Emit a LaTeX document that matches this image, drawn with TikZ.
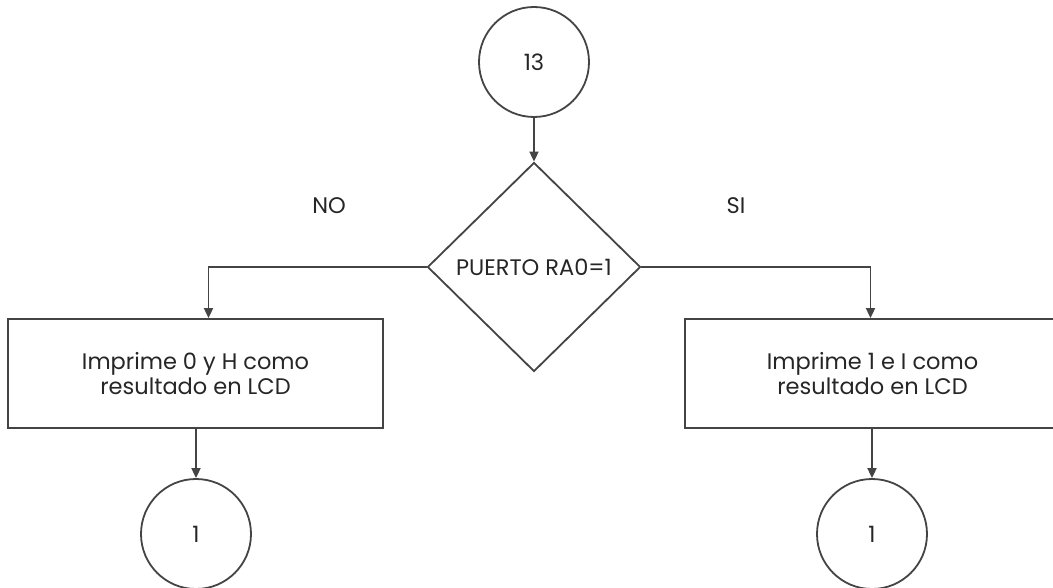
\documentclass[tikz,border=0pt]{standalone}
\usepackage{fontspec}
\setmainfont{Poppins}
\usetikzlibrary{shapes.geometric,arrows.meta}
\definecolor{ink}{HTML}{262626}
\definecolor{edge}{HTML}{444444}
\tikzset{
  label font/.style={text=ink, font=\fontsize{22.5}{24.5}\selectfont},
  base/.style={draw=edge, line width=1.8pt, label font},
  connector/.style={base, circle, minimum size=110pt, inner sep=0pt},
  decision/.style={base, diamond, minimum width=213pt, minimum height=209pt, inner sep=0pt},
  process/.style={base, rectangle, minimum width=375pt, minimum height=109pt, inner sep=0pt, align=center},
  caption/.style={label font, inner sep=0pt},
  flow/.style={draw=edge, line width=1.8pt, -{Triangle[length=10pt,width=9pt]}},
}
\begin{document}
\begin{tikzpicture}[x=1pt,y=-1pt]
  \useasboundingbox (0,0) rectangle (1053,588);
  \fill[white] (0,0) rectangle (1053,588);

  % start connector and decision
  \node[connector] (c13) at (534,62) {13};
  \node[decision] (dec) at (534,267) {PUERTO RA0=1};

  % the two branches
  \node[process] (boxL) at (195.5,373.5) {Imprime 0 y H como\\resultado en LCD};
  \node[process] (boxR) at (872.5,373.5) {Imprime 1 e I como\\resultado en LCD};

  % off-page connectors
  \node[connector] (endL) at (196,534) {1};
  \node[connector] (endR) at (872,534) {1};

  % branch labels
  \node[caption] (no) at (329,206) {NO};
  \node[caption] (si) at (736,206) {SI};

  % connectors
  \draw[flow] (c13) -- (dec);
  \draw[flow] (dec.west) -| ([xshift=13pt]boxL.north);
  \draw[flow] (dec.east) -| ([xshift=-2pt]boxR.north);
  \draw[flow] (boxL.south -| endL) -- (endL);
  \draw[flow] (boxR.south -| endR) -- (endR);
\end{tikzpicture}
\end{document}
